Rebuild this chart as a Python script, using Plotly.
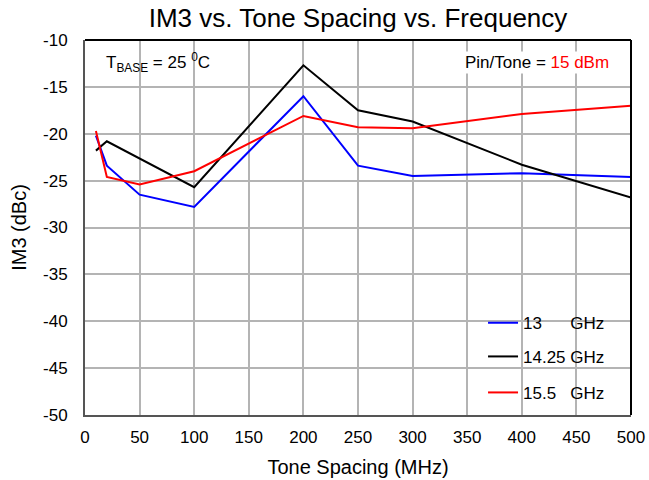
import plotly.graph_objects as go

spacing = [10, 20, 50, 100, 200, 250, 300, 400, 500]
im3_13 = [-20.2, -23.4, -26.5, -27.8, -16.0, -23.4, -24.5, -24.2, -24.6]
spacing_1425 = [10, 20, 100, 200, 250, 300, 400, 500]
im3_1425 = [-21.8, -20.8, -25.7, -12.7, -17.5, -18.7, -23.3, -26.8]
im3_155 = [-19.7, -24.6, -25.4, -24.0, -18.1, -19.3, -19.4, -17.9, -17.0]

names = ["13\u00a0\u00a0\u00a0\u00a0\u00a0\u00a0GHz", "14.25 GHz", "15.5\u00a0\u00a0\u00a0GHz"]

x_ticks = [0, 50, 100, 150, 200, 250, 300, 350, 400, 450, 500]
y_ticks = [-50, -45, -40, -35, -30, -25, -20, -15, -10]
y_ticktext = ["-50", "-45", "-40", "-35", "-30", "-25", "-20", "-15", "-10"]

FONT = "Liberation Sans, Arial, sans-serif"

fig = go.Figure()
fig.add_trace(go.Scatter(x=spacing, y=im3_13, mode="lines", name=names[0],
                         line=dict(color="#0000ff", width=2), legend="legend"))
fig.add_trace(go.Scatter(x=spacing_1425, y=im3_1425, mode="lines", name=names[1],
                         line=dict(color="#000000", width=2), legend="legend2"))
fig.add_trace(go.Scatter(x=spacing, y=im3_155, mode="lines", name=names[2],
                         line=dict(color="#ff0000", width=2), legend="legend3"))

leg_common = dict(xanchor="left", yanchor="middle", bgcolor="rgba(0,0,0,0)",
                  font=dict(family=FONT, size=17, color="black"), itemwidth=30)

fig.update_layout(
    width=649, height=480,
    margin=dict(l=85, r=18, t=40, b=65),
    paper_bgcolor="white", plot_bgcolor="white",
    font=dict(family=FONT, color="black"),
    showlegend=True,
    title=dict(text="IM3 vs. Tone Spacing vs. Frequency", x=0.5, xref="paper",
               y=0.9625, yanchor="middle", font=dict(size=26, family=FONT)),
    xaxis=dict(range=[0, 500], tickmode="array", tickvals=x_ticks,
               showgrid=True, gridcolor="#b4b4b4", gridwidth=1.5,
               showline=True, linecolor="#555555", linewidth=2, mirror=False,
               ticks="", tickfont=dict(size=17), automargin=False, ticklabelstandoff=6,
               title=dict(text="Tone Spacing (MHz)", font=dict(size=20), standoff=14),
               zeroline=False),
    yaxis=dict(range=[-50, -10], tickmode="array", tickvals=y_ticks, ticktext=y_ticktext,
               showgrid=True, gridcolor="#b4b4b4", gridwidth=1.5,
               showline=True, linecolor="#555555", linewidth=2, mirror=False,
               ticks="", tickfont=dict(size=17), automargin=False, ticklabelstandoff=12,
               title=dict(text="IM3 (dBc)", font=dict(size=20), standoff=11),
               zeroline=False),
    legend=dict(x=0.729, y=0.245, **leg_common),
    legend2=dict(x=0.729, y=0.155, **leg_common),
    legend3=dict(x=0.729, y=0.059, **leg_common),
    shapes=[
        dict(type="rect", xref="paper", yref="paper", x0=0.751, x1=0.997, y0=0.004, y1=0.29,
             fillcolor="white", line=dict(width=0), layer="between"),
        dict(type="line", xref="paper", yref="paper", x0=0, x1=1, y0=1, y1=1,
             line=dict(color="black", width=2), layer="above"),
        dict(type="line", xref="paper", yref="paper", x0=1, x1=1, y0=0, y1=1,
             line=dict(color="black", width=2), layer="above"),
    ],
    annotations=[
        dict(text="T<sub>BASE</sub> = 25 <sup>0</sup>C", xref="paper", yref="paper",
             x=0.035, y=0.94, xanchor="left", yanchor="middle", showarrow=False,
             font=dict(size=17)),
        dict(text="Pin/Tone = <span style='color:#ff0000'>15 dBm</span>", xref="paper", yref="paper",
             x=0.963, y=0.94, xanchor="right", yanchor="middle", showarrow=False,
             font=dict(size=17), bgcolor="white"),
    ],
)

fig.write_html("out.html", config={"displayModeBar": False},
               post_script="document.body.style.margin='0px';")
